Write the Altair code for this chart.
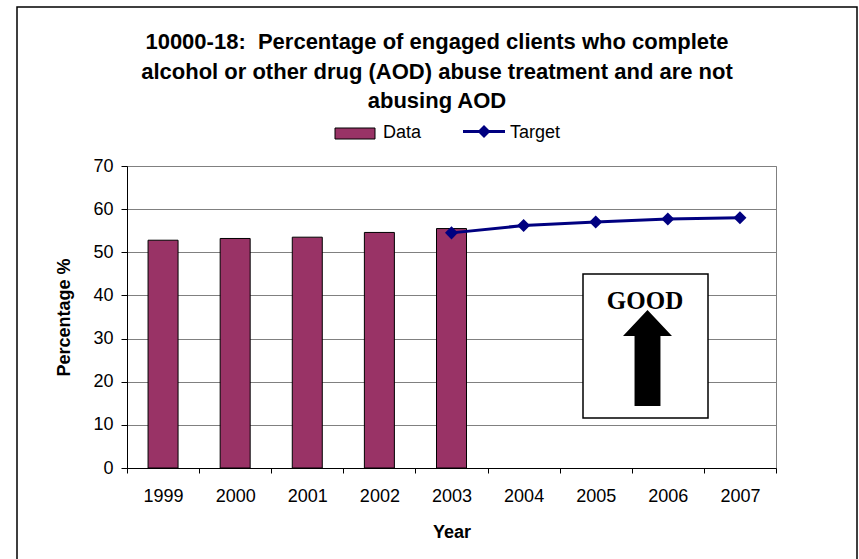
import altair as alt
import pandas as pd

# ---- data ----
years = ["1999", "2000", "2001", "2002", "2003", "2004", "2005", "2006", "2007"]
data_years = ["1999", "2000", "2001", "2002", "2003"]
data_values = [52.8, 53.2, 53.5, 54.6, 55.5]
target_years = ["2003", "2004", "2005", "2006", "2007"]
target_values = [54.5, 56.2, 57.0, 57.7, 58.0]
y_ticks = [0, 10, 20, 30, 40, 50, 60, 70]
title_lines = [
    "10000-18:\u00a0 Percentage of engaged clients who complete",
    "alcohol or other drug (AOD) abuse treatment and are not",
    "abusing AOD",
]
legend_labels = ["Data", "Target"]
badge_text = ["GOOD"]

bars_df = pd.DataFrame({"Year": data_years, "Value": data_values})
target_df = pd.DataFrame({"Year": target_years, "Value": target_values})

FONT = "Liberation Sans"
BAR = "#993366"
NAVY = "#000080"
W, H = 649, 302

x_scale = alt.Scale(domain=years, paddingInner=0, paddingOuter=0)
y_scale = alt.Scale(domain=[0, 70], nice=False)

x_axis = alt.Axis(
    title="Year", labelAngle=0, tickBand="extent", grid=False,
    domainColor="black", tickColor="black", tickSize=5,
    labelFont=FONT, labelFontSize=18, labelColor="black", labelPadding=14,
    titleFont=FONT, titleFontSize=18, titleFontWeight="bold", titleColor="black",
    titleBaseline="alphabetic", titleY=69,
)
y_axis = alt.Axis(
    title="Percentage %", values=y_ticks, grid=True, gridColor="#808080",
    domainColor="black", tickColor="black", tickSize=6,
    labelFont=FONT, labelFontSize=18, labelColor="black", labelPadding=8,
    titleFont=FONT, titleFontSize=18, titleFontWeight="bold", titleColor="black",
    titleBaseline="alphabetic", titleX=-58, titleY=151, titleAngle=-90, titleAlign="center",
)

bars = alt.Chart(bars_df).mark_bar(size=30, color=BAR, stroke="black", strokeWidth=1).encode(
    x=alt.X("Year:N", scale=x_scale, axis=x_axis),
    y=alt.Y("Value:Q", scale=y_scale, axis=y_axis),
)

line = alt.Chart(target_df).mark_line(color=NAVY, strokeWidth=3).encode(
    x=alt.X("Year:N", scale=x_scale),
    y=alt.Y("Value:Q", scale=y_scale),
)
points = alt.Chart(target_df).mark_point(shape="diamond", filled=True, size=170, color=NAVY, opacity=1).encode(
    x=alt.X("Year:N", scale=x_scale),
    y=alt.Y("Value:Q", scale=y_scale),
)

one = pd.DataFrame({"k": [0]})

# outer chart frame
frame = alt.Chart(one).mark_rect(fillOpacity=0, stroke="black", strokeWidth=1.5).encode(
    x=alt.value(-110), x2=alt.value(730), y=alt.value(-159), y2=alt.value(430)
)

# title lines
title_layers = []
for txt, yy in zip(title_lines, [-117, -87.5, -58]):
    title_layers.append(
        alt.Chart(pd.DataFrame({"t": [txt]})).mark_text(
            font=FONT, fontSize=22, fontWeight="bold", color="black",
            align="center", baseline="alphabetic",
        ).encode(x=alt.value(310), y=alt.value(yy), text="t:N")
    )

# legend
leg_rect = alt.Chart(one).mark_rect(fill=BAR, stroke="black", strokeWidth=1).encode(
    x=alt.value(208), x2=alt.value(248), y=alt.value(-38), y2=alt.value(-27)
)
leg_data_txt = alt.Chart(pd.DataFrame({"t": [legend_labels[0]]})).mark_text(
    font=FONT, fontSize=18, color="black", align="left", baseline="alphabetic"
).encode(x=alt.value(256), y=alt.value(-28), text="t:N")
leg_rule = alt.Chart(one).mark_rule(color=NAVY, strokeWidth=3).encode(
    x=alt.value(336), x2=alt.value(378), y=alt.value(-34.5)
)
leg_pt = alt.Chart(one).mark_point(shape="diamond", filled=True, size=170, color=NAVY, opacity=1).encode(
    x=alt.value(357), y=alt.value(-34.5)
)
leg_target_txt = alt.Chart(pd.DataFrame({"t": [legend_labels[1]]})).mark_text(
    font=FONT, fontSize=18, color="black", align="left", baseline="alphabetic"
).encode(x=alt.value(383), y=alt.value(-28), text="t:N")

# GOOD box with arrow
box = alt.Chart(one).mark_rect(fill="white", stroke="black", strokeWidth=1.5).encode(
    x=alt.value(456), x2=alt.value(581), y=alt.value(108), y2=alt.value(252)
)
good = alt.Chart(pd.DataFrame({"t": badge_text})).mark_text(
    font="Liberation Serif", fontSize=25, fontWeight="bold", color="black",
    align="center", baseline="alphabetic",
).encode(x=alt.value(518), y=alt.value(143), text="t:N")
arrow_path = "M0,-1L0.51,-0.46L0.27,-0.46L0.27,1L-0.27,1L-0.27,-0.46L-0.51,-0.46Z"
arrow = alt.Chart(one).mark_point(
    shape=arrow_path, size=9216, filled=True, fill="black", strokeWidth=0, opacity=1
).encode(x=alt.value(520.5), y=alt.value(192))

chart = alt.layer(
    bars, line, points, box, good, arrow,
    *title_layers, leg_rect, leg_data_txt, leg_rule, leg_pt, leg_target_txt, frame,
).properties(
    width=W, height=H,
    padding={"left": 127, "top": 166, "right": 83, "bottom": 91},
    autosize=alt.AutoSizeParams(type="none"),
    background="white",
).configure_view(stroke="#808080", strokeWidth=1)

chart.save("out.html", embed_options={"renderer": "svg", "actions": False})
